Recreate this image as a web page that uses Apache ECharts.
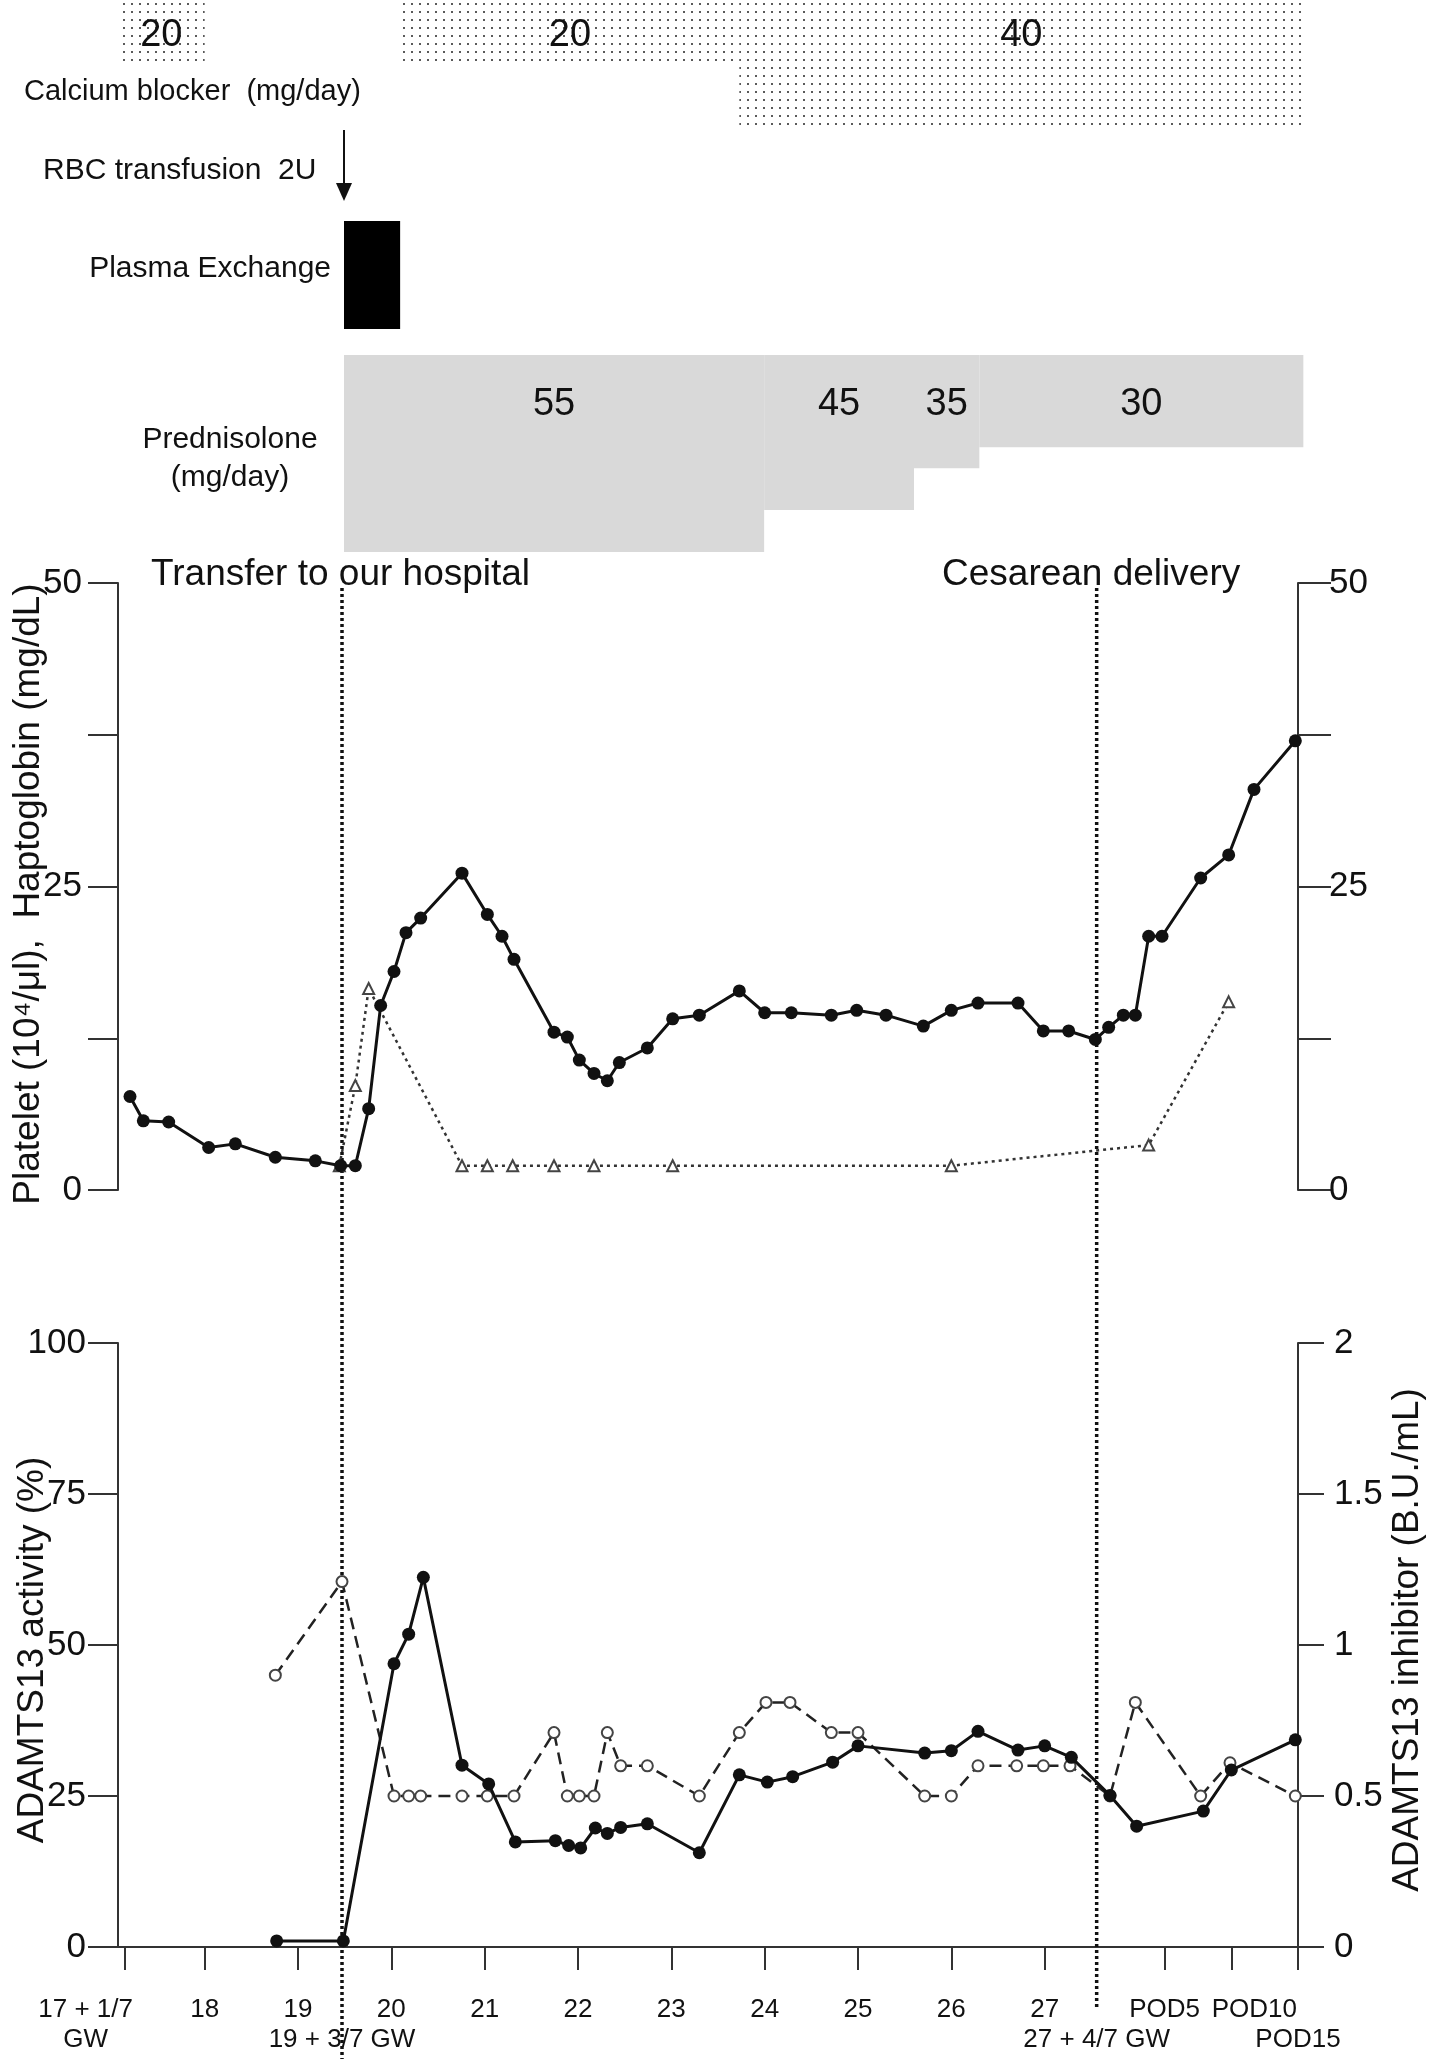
<!DOCTYPE html>
<html><head><meta charset="utf-8">
<script src="https://cdn.jsdelivr.net/npm/echarts@6/dist/echarts.min.js"></script>
<style>html,body{margin:0;padding:0;background:#fff}#c{width:1430px;height:2059px}</style>
</head><body><div id="c"></div>
<script>
// ---- data (x = gestational age in days; 17w+1d = 120) ----
const plateletDays = [120.4,121.4,123.3,126.3,128.3,131.3,134.3,136.2,137.3,138.3,139.2,140.2,141.1,142.2,145.3,147.2,148.3,149.2,152.2,153.2,154.1,155.2,156.2,157.1,159.2,161.1,163.1,166.1,168.0,170.0,173.0,174.9,177.1,179.9,182.0,184.0,187.0,188.9,190.8,192.8,193.8,194.9,195.8,196.8,197.8,200.7,202.8,204.7,207.8];
const plateletValues = [7.7,5.7,5.6,3.5,3.8,2.7,2.4,2.0,2.0,6.7,15.2,18.0,21.2,22.4,26.1,22.7,20.9,19.0,13.0,12.6,10.7,9.6,9.0,10.5,11.7,14.1,14.4,16.4,14.6,14.6,14.4,14.8,14.4,13.5,14.8,15.4,15.4,13.1,13.1,12.4,13.4,14.4,14.4,20.9,20.9,25.7,27.6,33.0,37.0];
const haptoDays = [136.1,137.3,138.3,145.3,147.2,149.1,152.2,155.2,161.1,182.0,196.8,202.8];
const haptoValues = [2.0,8.6,16.6,2.0,2.0,2.0,2.0,2.0,2.0,2.0,3.7,15.5];
const activityDays = [131.4,136.4,140.2,141.3,142.4,145.3,147.3,149.3,152.3,153.3,154.2,155.3,156.2,157.2,159.2,163.1,166.1,168.2,170.1,173.1,175.0,180.0,182.0,184.0,187.0,189.0,191.0,193.9,195.9,200.9,203.0,207.8];
const activityValues = [1,1,46.9,51.8,61.2,30.1,27.0,17.4,17.6,16.8,16.4,19.7,18.8,19.8,20.4,15.6,28.5,27.3,28.2,30.6,33.3,32.1,32.5,35.7,32.6,33.3,31.4,25.1,20.0,22.5,29.3,34.3];
const inhibitorDays = [131.3,136.3,140.2,141.3,142.2,145.3,147.2,149.2,152.2,153.2,154.1,155.2,156.2,157.2,159.2,163.1,166.1,168.1,169.9,173.0,175.0,180.0,182.0,184.0,186.9,188.9,190.9,193.9,195.8,200.7,202.9,207.8];
const inhibitorValues = [0.90,1.21,0.5,0.5,0.5,0.5,0.5,0.5,0.71,0.5,0.5,0.5,0.71,0.6,0.6,0.5,0.71,0.81,0.81,0.71,0.71,0.5,0.5,0.6,0.6,0.6,0.6,0.5,0.81,0.5,0.61,0.5];
const calciumStart = [119.5,140.7,166.1];
const calciumEnd = [126.0,166.1,208.4];
const calciumDose = [20,20,40];
const plasmaStart = [136.45];
const plasmaEnd = [140.66];
const predStart = [136.45,167.96,179.2,184.1];
const predEnd = [167.96,179.2,184.1,208.4];
const predDose = [55,45,35,30];
const transferDay = 136.3;
const cesareanDay = 192.9;
const xTickValues = [120,126,133,140,147,154,161,168,175,182,189,198,203,208];
const xTickLabels = ['','18','19','20','21','22','23','24','25','26','27','POD5','POD10',''];
const xExtraValues = [120, transferDay, cesareanDay, 208];
const xExtraLabels = ['17 + 1/7\nGW','\n19 + 3/7 GW','\n27 + 4/7 GW','\nPOD15'];

// ---- rendering ----
const FONT = '"Liberation Sans", Arial, sans-serif';
const INK = '#111';
const AX = '#333';
const X_MIN = 119.5, X_MAX = 208;

const pat = document.createElement('canvas');
pat.width = 8; pat.height = 8;
const pc = pat.getContext('2d');
pc.fillStyle = '#fff'; pc.fillRect(0,0,8,8);
pc.fillStyle = '#5a5a5a'; pc.fillRect(3,3,2,2);

function renderCalcium(params, api){
  const s = api.value(0), e = api.value(1), d = api.value(2);
  const p0 = api.coord([s, 0]), p1 = api.coord([e, d]);
  return {type:'group', children:[
    {type:'rect', shape:{x:p0[0], y:p0[1], width:p1[0]-p0[0], height:p1[1]-p0[1]}, style:{fill:{image:pat, repeat:'repeat'}}},
    {type:'text', x:(p0[0]+p1[0])/2, y:p0[1]+36, style:{text:String(d), fill:INK, font:'38px '+FONT, align:'center', verticalAlign:'middle'}}
  ]};
}
function renderPlasma(params, api){
  const p0 = api.coord([api.value(0), 0]), p1 = api.coord([api.value(1), 1]);
  return {type:'rect', shape:{x:p0[0], y:Math.min(p0[1],p1[1]), width:p1[0]-p0[0], height:Math.abs(p1[1]-p0[1])}, style:{fill:'#000'}};
}
function renderPred(params, api){
  const s = api.value(0), e = api.value(1), d = api.value(2);
  const p0 = api.coord([s, 8]), p1 = api.coord([e, d]);
  return {type:'group', children:[
    {type:'rect', shape:{x:p0[0], y:p0[1], width:p1[0]-p0[0], height:p1[1]-p0[1]}, style:{fill:'#d9d9d9'}},
    {type:'text', x:(p0[0]+p1[0])/2, y:p0[1]+50, style:{text:String(d), fill:INK, font:'38px '+FONT, align:'center', verticalAlign:'middle'}}
  ]};
}

const gridBase = {left:118, right:132, outerBoundsMode:'none', containLabel:false};
const grids = [
  Object.assign({top:0, height:125}, gridBase),
  Object.assign({top:221, height:108}, gridBase),
  Object.assign({top:355, height:197}, gridBase),
  Object.assign({top:583, height:607}, gridBase),
  Object.assign({top:1343, height:604}, gridBase)
];

const hiddenX = i => ({type:'value', gridIndex:i, min:X_MIN, max:X_MAX, show:false, splitLine:{show:false}});
const lbl = {fontFamily:FONT, color:INK};

function yAx(grid, pos, min, max, interval, fmt, tickLen, margin){
  return {type:'value', gridIndex:grid, position:pos, min:min, max:max, interval:interval,
    axisLine:{show:true, lineStyle:{color:AX, width:2}},
    axisTick:{show:true, inside:false, length:tickLen, lineStyle:{color:AX, width:2}},
    axisLabel:Object.assign({fontSize:35, margin:margin, formatter:fmt, showMinLabel:true, showMaxLabel:true}, lbl),
    splitLine:{show:false}};
}

function makeFmt(values, labels){
  return function(v){
    const i = values.findIndex(t => Math.abs(t - v) < 1e-6);
    if (i < 0) return '';
    const txt = labels[i];
    if (!txt) return '';
    const style = v === 120 ? 's' : (txt === 'POD10' ? 'r' : 'n');
    return txt.split('\n').map(line => line ? '{' + style + '|' + line + '}' : '{n| }').join('\n');
  };
}
const xRich = {
  n:{fontSize:26, lineHeight:30, fontFamily:FONT, color:INK},
  s:{fontSize:26, lineHeight:30, fontFamily:FONT, color:INK, padding:[0,78,0,0]},
  r:{fontSize:26, lineHeight:30, fontFamily:FONT, color:INK, padding:[0,0,0,46]}
};

const chart = echarts.init(document.getElementById('c'), null, {renderer:'canvas', width:1430, height:2059});
chart.setOption({
  animation:false,
  backgroundColor:'#fff',
  grid:grids,
  xAxis:[hiddenX(0), hiddenX(1), hiddenX(2), hiddenX(3),
    {type:'value', gridIndex:4, position:'bottom', min:X_MIN, max:X_MAX, offset:13,
      axisLine:{show:true, lineStyle:{color:AX, width:2}},
      axisTick:{show:true, customValues:xTickValues, length:23, lineStyle:{color:AX, width:2}},
      axisLabel:{show:true, customValues:xTickValues, formatter:makeFmt(xTickValues, xTickLabels), rich:xRich, margin:35, hideOverlap:false, showMinLabel:true, showMaxLabel:true, fontSize:26, lineHeight:30, fontFamily:FONT, color:INK},
      splitLine:{show:false}},
    {type:'value', gridIndex:4, position:'bottom', min:X_MIN, max:X_MAX, offset:13,
      axisLine:{show:false}, axisTick:{show:false},
      axisLabel:{show:true, customValues:xExtraValues, formatter:makeFmt(xExtraValues, xExtraLabels), rich:xRich, margin:35, hideOverlap:false, showMinLabel:true, showMaxLabel:true, fontSize:26, lineHeight:30, fontFamily:FONT, color:INK},
      splitLine:{show:false}}
  ],
  yAxis:[
    {type:'value', gridIndex:0, min:0, max:40, inverse:true, show:false, splitLine:{show:false}},
    {type:'value', gridIndex:1, min:0, max:1, show:false, splitLine:{show:false}},
    {type:'value', gridIndex:2, min:8, max:55, inverse:true, show:false, splitLine:{show:false}},
    yAx(3, 'left', 0, 50, 12.5, v => (v % 25 === 0 ? String(v) : ''), 30, 36),
    yAx(3, 'right', 0, 50, 12.5, v => (v % 25 === 0 ? String(v) : ''), 33, 31),
    yAx(4, 'left', 0, 100, 25, v => String(v), 30, 32),
    yAx(4, 'right', 0, 2, 0.5, v => String(v), 26, 36)
  ],
  series:[
    {type:'custom', name:'Calcium blocker', xAxisIndex:0, yAxisIndex:0, renderItem:renderCalcium, silent:true,
      encode:{x:[0,1], y:2}, data:calciumStart.map((s,i)=>[s, calciumEnd[i], calciumDose[i]])},
    {type:'custom', name:'Plasma Exchange', xAxisIndex:1, yAxisIndex:1, renderItem:renderPlasma, silent:true,
      encode:{x:[0,1]}, data:plasmaStart.map((s,i)=>[s, plasmaEnd[i]])},
    {type:'custom', name:'Prednisolone', xAxisIndex:2, yAxisIndex:2, renderItem:renderPred, silent:true,
      encode:{x:[0,1], y:2}, data:predStart.map((s,i)=>[s, predEnd[i], predDose[i]])},
    {type:'line', name:'Haptoglobin', xAxisIndex:3, yAxisIndex:3, z:2,
      data:haptoDays.map((d,i)=>[d, haptoValues[i]]),
      symbol:'emptyTriangle', symbolSize:11, showAllSymbol:true,
      itemStyle:{color:'#444', borderWidth:1.5},
      lineStyle:{color:'#333', width:2.5, type:[3,4]}},
    {type:'line', name:'Platelet', xAxisIndex:3, yAxisIndex:3, z:3,
      data:plateletDays.map((d,i)=>[d, plateletValues[i]]),
      symbol:'circle', symbolSize:13, showAllSymbol:true,
      itemStyle:{color:INK}, lineStyle:{color:INK, width:3}},
    {type:'line', name:'ADAMTS13 inhibitor', xAxisIndex:4, yAxisIndex:6, z:2,
      data:inhibitorDays.map((d,i)=>[d, inhibitorValues[i]]),
      symbol:'emptyCircle', symbolSize:11, showAllSymbol:true,
      itemStyle:{color:'#444', borderWidth:1.5},
      lineStyle:{color:'#222', width:2.5, type:[12,7]}},
    {type:'line', name:'ADAMTS13 activity', xAxisIndex:4, yAxisIndex:5, z:3,
      data:activityDays.map((d,i)=>[d, activityValues[i]]),
      symbol:'circle', symbolSize:13, showAllSymbol:true,
      itemStyle:{color:INK}, lineStyle:{color:INK, width:3}}
  ]
});

const xp = d => chart.convertToPixel({xAxisIndex:3}, d);
const xt = xp(transferDay), xc = xp(cesareanDay), xa = xp(plasmaStart[0]);
const txt = (x, y, text, size, align, extra) => Object.assign({type:'text', x:x, y:y, z:10,
  style:{text:text, font:size+'px '+FONT, fill:INK, align:align||'left', verticalAlign:'middle'}}, extra||{});
chart.setOption({graphic:[
  txt(24, 92, 'Calcium blocker  (mg/day)', 29),
  txt(43, 171, 'RBC transfusion  2U', 30),
  txt(331, 269, 'Plasma Exchange', 30, 'right'),
  txt(230, 440, 'Prednisolone', 30, 'center'),
  txt(230, 478, '(mg/day)', 30, 'center'),
  txt(151, 575, 'Transfer to our hospital', 37),
  txt(942, 575, 'Cesarean delivery', 37),
  txt(29, 894, 'Platelet (10\u2074/\u03bcl),  Haptoglobin (mg/dL)', 37, 'center', {rotation:Math.PI/2}),
  txt(33, 1650, 'ADAMTS13 activity (%)', 37, 'center', {rotation:Math.PI/2}),
  txt(1408, 1640, 'ADAMTS13 inhibitor (B.U./mL)', 37, 'center', {rotation:Math.PI/2}),
  {type:'line', z:1, shape:{x1:xt, y1:588, x2:xt, y2:2059}, style:{stroke:INK, lineWidth:3.5, lineDash:[3,3]}},
  {type:'line', z:1, shape:{x1:xc, y1:588, x2:xc, y2:2010}, style:{stroke:INK, lineWidth:3.5, lineDash:[3,3]}},
  {type:'line', z:5, shape:{x1:xa, y1:130, x2:xa, y2:186}, style:{stroke:INK, lineWidth:2}},
  {type:'polygon', z:5, shape:{points:[[xa-8,183],[xa+8,183],[xa,201]]}, style:{fill:INK}}
]});
</script>
</body></html>
